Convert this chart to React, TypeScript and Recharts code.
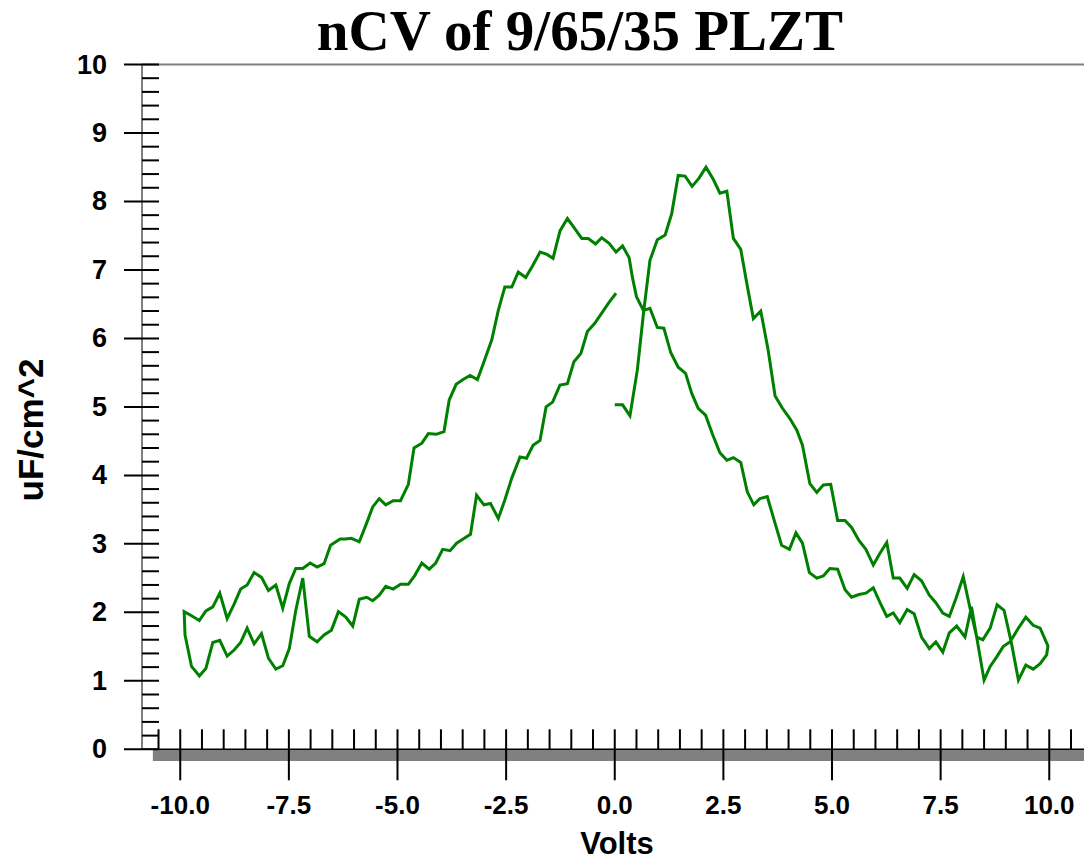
import { LineChart, Line, XAxis, YAxis, ReferenceArea, ReferenceLine } from 'recharts'

// [volts, uF/cm^2], in sweep order
const sweepUp: [number, number][] = [
  [0.0, 5.03], [0.18, 5.03], [0.35, 4.87], [0.52, 5.54], [0.66, 6.36], [0.81, 7.14], [0.98, 7.44],
  [1.16, 7.51], [1.31, 7.82], [1.46, 8.38], [1.62, 8.37], [1.78, 8.22], [1.94, 8.34], [2.1, 8.5],
  [2.27, 8.32], [2.42, 8.12], [2.58, 8.15], [2.73, 7.46], [2.9, 7.3], [3.04, 6.8], [3.19, 6.29],
  [3.36, 6.4], [3.53, 5.83], [3.69, 5.16], [3.86, 4.98], [4.03, 4.83], [4.19, 4.66], [4.32, 4.44],
  [4.49, 3.88], [4.65, 3.75], [4.8, 3.86], [4.97, 3.87], [5.13, 3.34], [5.3, 3.34], [5.45, 3.24],
  [5.62, 3.05], [5.78, 2.92], [5.95, 2.69], [6.1, 2.86], [6.26, 3.02], [6.41, 2.5], [6.56, 2.5],
  [6.73, 2.35], [6.89, 2.55], [7.06, 2.46], [7.24, 2.25], [7.39, 2.14], [7.55, 1.99], [7.7, 1.94],
  [7.85, 2.2], [8.02, 2.52], [8.17, 2.08], [8.33, 1.64], [8.47, 1.6], [8.64, 1.77], [8.8, 2.11],
  [8.96, 2.03], [9.13, 1.55], [9.29, 1.01], [9.46, 1.23], [9.63, 1.17], [9.79, 1.25], [9.94, 1.38],
  [9.97, 1.51],
]

const sweepBack: [number, number][] = [
  [9.79, 1.77], [9.63, 1.81], [9.46, 1.93], [9.29, 1.77], [9.1, 1.57], [8.94, 1.5], [8.79, 1.35],
  [8.64, 1.21], [8.5, 1.01], [8.21, 2.08], [8.06, 1.64], [7.87, 1.8], [7.7, 1.7], [7.55, 1.42],
  [7.39, 1.57], [7.24, 1.47], [7.06, 1.64], [6.89, 1.98], [6.73, 2.04], [6.56, 1.85], [6.41, 1.99],
  [6.26, 1.94], [6.1, 2.15], [5.95, 2.36], [5.78, 2.28], [5.62, 2.26], [5.45, 2.22], [5.3, 2.33],
  [5.13, 2.63], [4.95, 2.64], [4.8, 2.53], [4.65, 2.5], [4.48, 2.58], [4.32, 3.01], [4.17, 3.16],
  [4.02, 2.92], [3.84, 2.98], [3.69, 3.3], [3.51, 3.69], [3.34, 3.66], [3.2, 3.57], [3.05, 3.76],
  [2.9, 4.19], [2.73, 4.26], [2.58, 4.22], [2.42, 4.33], [2.25, 4.6], [2.09, 4.88], [1.92, 4.98],
  [1.77, 5.2], [1.63, 5.49], [1.46, 5.58], [1.29, 5.79], [1.13, 6.15], [0.98, 6.16], [0.81, 6.44],
  [0.66, 6.41], [0.5, 6.61], [0.41, 6.88], [0.33, 7.18], [0.18, 7.35], [0.03, 7.26], [-0.13, 7.39],
  [-0.3, 7.47], [-0.44, 7.38], [-0.61, 7.46], [-0.76, 7.46], [-0.94, 7.62], [-1.09, 7.75],
  [-1.26, 7.57], [-1.42, 7.17], [-1.57, 7.23], [-1.72, 7.26], [-1.9, 7.05], [-2.05, 6.89],
  [-2.22, 6.97], [-2.37, 6.75], [-2.53, 6.75], [-2.68, 6.41], [-2.83, 5.98], [-3.01, 5.66],
  [-3.16, 5.4], [-3.33, 5.46], [-3.49, 5.4], [-3.65, 5.33], [-3.81, 5.1], [-3.93, 4.64],
  [-4.11, 4.6], [-4.29, 4.61], [-4.44, 4.47], [-4.62, 4.4], [-4.75, 3.87], [-4.93, 3.63],
  [-5.1, 3.63], [-5.27, 3.57], [-5.42, 3.66], [-5.57, 3.54], [-5.73, 3.27], [-5.88, 3.03],
  [-6.06, 3.08], [-6.2, 3.07], [-6.32, 3.07], [-6.54, 2.98], [-6.69, 2.71], [-6.85, 2.66],
  [-7.01, 2.72], [-7.18, 2.64], [-7.34, 2.64], [-7.49, 2.42], [-7.64, 2.06], [-7.8, 2.4],
  [-7.97, 2.32], [-8.13, 2.51], [-8.3, 2.58], [-8.46, 2.4], [-8.61, 2.34], [-8.76, 2.12],
  [-8.92, 1.91], [-9.09, 2.28], [-9.25, 2.08], [-9.41, 2.02], [-9.56, 1.88], [-9.74, 1.95],
  [-9.91, 2.01],
]

const sweepEnd: [number, number][] = [
  [-9.89, 1.67], [-9.74, 1.21], [-9.56, 1.07], [-9.41, 1.18], [-9.25, 1.56], [-9.09, 1.59],
  [-8.92, 1.36], [-8.76, 1.45], [-8.61, 1.56], [-8.46, 1.77], [-8.3, 1.54], [-8.13, 1.69],
  [-7.97, 1.33], [-7.8, 1.17], [-7.64, 1.22], [-7.49, 1.47], [-7.34, 2.03], [-7.18, 2.5],
  [-7.03, 1.65], [-6.85, 1.57], [-6.69, 1.67], [-6.52, 1.74], [-6.36, 2.01], [-6.19, 1.93],
  [-6.03, 1.8], [-5.88, 2.19], [-5.71, 2.22], [-5.57, 2.17], [-5.42, 2.25], [-5.27, 2.38],
  [-5.1, 2.34], [-4.93, 2.41], [-4.75, 2.41], [-4.6, 2.54], [-4.44, 2.72], [-4.27, 2.63],
  [-4.12, 2.72], [-3.96, 2.92], [-3.79, 2.9], [-3.64, 3.01], [-3.49, 3.07], [-3.32, 3.14],
  [-3.18, 3.71], [-3.01, 3.57], [-2.86, 3.59], [-2.68, 3.37], [-2.53, 3.64], [-2.37, 3.96],
  [-2.18, 4.27], [-2.03, 4.25], [-1.88, 4.44], [-1.72, 4.51], [-1.58, 5.0], [-1.43, 5.07],
  [-1.26, 5.32], [-1.09, 5.34], [-0.94, 5.66], [-0.78, 5.78], [-0.63, 6.1], [-0.46, 6.22],
  [-0.3, 6.37], [-0.14, 6.52], [0.03, 6.66],
]

const yMajorTicks = [0, 1, 2, 3, 4, 5, 6, 7, 8, 9, 10]
const xMajorTicks = [-10, -7.5, -5, -2.5, 0, 2.5, 5, 7.5, 10]

const data = [...sweepUp, ...sweepBack, ...sweepEnd].map(([volts, cap]) => ({ volts, cap }))

// minor ticks: 0.2 on y, 0.5 on x
const yTicks = Array.from({ length: 51 }, (_, i) => Math.round(i * 2) / 10)
const xTicks = Array.from({ length: 43 }, (_, i) => -10.5 + i * 0.5)

const sans = '"Liberation Sans", Arial, sans-serif'

function YTick({ x, y, payload }: any) {
  const v = payload.value
  const major = yMajorTicks.some((t) => Math.abs(t - v) < 1e-6)
  return (
    <g>
      <line x1={major ? x - 18 : x} x2={x + 17} y1={y} y2={y} stroke="#000" strokeWidth={2} />
      {major && (
        <text x={x - 35} y={y} textAnchor="end" dominantBaseline="central"
          fontFamily={sans} fontWeight="bold" fontSize={27} fill="#000">
          {Math.round(v)}
        </text>
      )}
    </g>
  )
}

function XTick({ x, y, payload }: any) {
  const v = payload.value
  const major = xMajorTicks.some((t) => Math.abs(t - v) < 1e-6)
  return (
    <g>
      <line x1={x} x2={x} y1={y - 20} y2={major ? y + 31 : y} stroke="#000" strokeWidth={2} />
      {major && (
        <text x={x} y={y + 56} textAnchor="middle" dominantBaseline="central"
          fontFamily={sans} fontWeight="bold" fontSize={26} fill="#000">
          {v.toFixed(1)}
        </text>
      )}
    </g>
  )
}

export default function App() {
  return (
    <div style={{ position: 'fixed', left: 0, top: 0, width: 1084, height: 863, overflow: 'hidden', background: '#fff' }}>
      <LineChart width={1100} height={863} data={data} margin={{ top: 64.5, right: 12.5, bottom: 0, left: 0 }}>
        <ReferenceArea x1={-10.63} x2={10.88} y1={-0.17} y2={0} fill="#808080" fillOpacity={1}
          stroke="none" ifOverflow="visible" />
        <ReferenceLine y={10} stroke="#808080" strokeWidth={2} ifOverflow="visible" />
        <XAxis dataKey="volts" type="number" domain={[-10.88, 10.88]} allowDataOverflow
          ticks={xTicks} interval={0} tickSize={0} tickMargin={0} tickLine={false}
          axisLine={{ stroke: '#000', strokeWidth: 1.5 }} height={113.7}
          tick={(p: any) => <XTick {...p} />} />
        <YAxis type="number" domain={[0, 10]} allowDataOverflow ticks={yTicks} interval={0}
          tickSize={0} tickMargin={0} tickLine={false} width={142}
          axisLine={{ stroke: '#808080', strokeWidth: 2 }}
          tick={(p: any) => <YTick {...p} />} />
        <Line type="linear" dataKey="cap" stroke="#008000" strokeWidth={3} dot={false}
          isAnimationActive={false} />
      </LineChart>
      <svg width={1084} height={863} style={{ position: 'absolute', left: 0, top: 0, pointerEvents: 'none' }}>
        <text x={580} y={50} textAnchor="middle" fontFamily='"Liberation Serif", "Times New Roman", serif'
          fontWeight="bold" fontSize={57} fill="#000">nCV of 9/65/35 PLZT</text>
        <text x={30} y={430} textAnchor="middle" dominantBaseline="central" transform="rotate(-90 30 430)"
          fontFamily={sans} fontWeight="bold" fontSize={35} fill="#000">uF/cm^2</text>
        <text x={617} y={854} textAnchor="middle"
          fontFamily={sans} fontWeight="bold" fontSize={31} fill="#000">Volts</text>
      </svg>
    </div>
  )
}
